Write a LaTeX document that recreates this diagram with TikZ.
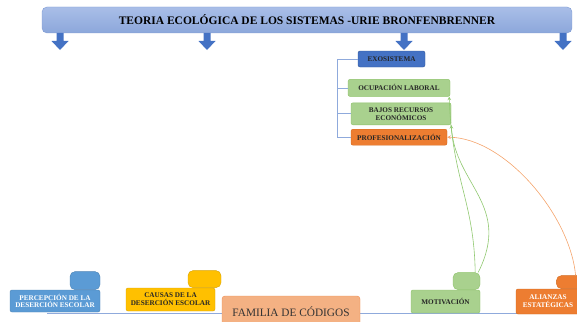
\documentclass[tikz,border=0pt]{standalone}
\usepackage{fontspec}
\setmainfont{Liberation Serif}
\usepackage{xcolor}
\usetikzlibrary{shapes,arrows,positioning,backgrounds}

\definecolor{bartop}{HTML}{A9BEE8}
\definecolor{barbot}{HTML}{8CA7DB}
\definecolor{barline}{HTML}{7E9AD3}
\definecolor{exoblue}{HTML}{4472C4}
\definecolor{exoline}{HTML}{2F5597}
\definecolor{boxgreen}{HTML}{A9D18E}
\definecolor{greenline}{HTML}{8CC168}
\definecolor{boxorange}{HTML}{ED7D31}
\definecolor{orangeline}{HTML}{D2691E}
\definecolor{percblue}{HTML}{5B9BD5}
\definecolor{causyellow}{HTML}{FFC000}
\definecolor{famsalmon}{HTML}{F4B183}
\definecolor{famline}{HTML}{F08C52}
\definecolor{linkblue}{HTML}{8FAADC}
\definecolor{linkorange}{HTML}{F4A36B}
\definecolor{linkgreen}{HTML}{90C870}

\begin{document}
\begin{tikzpicture}[
    x=1pt, y=-1pt,
    node distance=6pt,
    title/.style={rectangle, draw=barline, rounded corners=5pt, top color=bartop, bottom color=barbot, font=\fontsize{11.5}{12}\selectfont\bfseries},
    box/.style={rectangle, draw, rounded corners=2pt, inner sep=1pt, align=center, font=\fontsize{7.2}{7.8}\selectfont\bfseries, text=black!85},
    tab/.style={rectangle, draw, rounded corners=5pt},
    greenbox/.style={box, fill=boxgreen, draw=greenline},
    orangebox/.style={box, fill=boxorange, draw=orangeline},
    link/.style={-stealth, line width=0.6pt},
]
    \useasboundingbox (0,0) rectangle (577,321);

    % Title bar with arrows
    \node[title, minimum width=530pt, minimum height=26pt] (title) at (307,20) {TEORIA ECOLÓGICA DE LOS SISTEMAS -URIE BRONFENBRENNER};
    \foreach \x in {60,207,404,563}
        \fill[exoblue] (\x-3.5,33) -- (\x+3.5,33) -- (\x+3.5,41) -- (\x+8.5,41) -- (\x,50) -- (\x-8.5,41) -- (\x-3.5,41) -- cycle;

    % EXOSISTEMA column
    \node[box, fill=exoblue, draw=exoline, minimum width=67pt, minimum height=16pt] (exo) at (391.5,59) {EXOSISTEMA};
    \node[greenbox, minimum width=102pt, minimum height=17pt, below=12pt of exo, xshift=7.5pt] (ocup) {OCUPACIÓN LABORAL};
    \node[greenbox, minimum width=100pt, minimum height=22pt, below=6pt of ocup, xshift=2pt] (bajos) {BAJOS RECURSOS\\ECONÓMICOS};
    \node[orangebox, minimum width=96pt, minimum height=16pt, below=4pt of bajos, xshift=-2pt] (prof) {PROFESIONALIZACIÓN};

    % Bracket
    \coordinate (brk) at (337,59);
    \draw[linkblue, line width=0.8pt] (exo.west) -- (brk) |- (prof.west);
    \draw[linkblue, line width=0.8pt] (brk |- ocup.west) -- (ocup.west);
    \draw[linkblue, line width=0.8pt] (brk |- bajos.west) -- (bajos.west);

    % Bottom row
    \node[box, fill=percblue, draw=percblue!85!black, text=white, minimum width=90pt, minimum height=22pt] (perc) at (55,301) {PERCEPCIÓN DE LA\\DESERCIÓN ESCOLAR};
    \node[tab, fill=percblue, draw=percblue!85!black, minimum width=30pt, minimum height=18pt, anchor=south east] (perctab) at (perc.north east) {};
    \node[box, fill=causyellow, draw=causyellow!85!black, minimum width=89pt, minimum height=23pt] (caus) at (170.5,299.5) {CAUSAS DE LA\\DESERCIÓN ESCOLAR};
    \node[tab, fill=causyellow, draw=causyellow!85!black, minimum width=33pt, minimum height=17pt, anchor=south east, xshift=6pt] (caustab) at (caus.north east) {};
    \node[box, fill=famsalmon, draw=famline, rounded corners=3pt, minimum width=138pt, minimum height=32pt, font=\fontsize{11.3}{12}\selectfont, text=black!80] (fam) at (291,312) {FAMILIA DE CÓDIGOS};
    \node[greenbox, minimum width=69pt, minimum height=23pt] (mot) at (445.5,301.5) {MOTIVACIÓN};
    \node[tab, fill=boxgreen, draw=greenline, minimum width=27pt, minimum height=17pt, anchor=south east] (mottab) at (mot.north east) {};
    \node[orangebox, text=white, minimum width=64pt, minimum height=25pt] (ali) at (548,301.5) {ALIANZAS\\ESTATÉGICAS};
    \node[tab, fill=boxorange, draw=orangeline, minimum width=26pt, minimum height=13pt, anchor=south west] (alitab) at ([xshift=-24pt]ali.north east) {};

    % Base line
    \begin{scope}[on background layer]
        \coordinate (base-l) at (47,313);
        \coordinate (base-r) at (577,313);
        \draw[linkblue, line width=1pt] (base-l) -- (base-r);
    \end{scope}

    % Links
    \draw[link, linkorange] ([xshift=-7pt]alitab.north east) .. controls (570,215) and (505,138) .. (prof.east);
    \draw[link, linkgreen] ([xshift=-5pt]mottab.north east) .. controls (474,200) and (452,180) .. ([xshift=-1pt]ocup.south east);
    \draw[link, linkgreen] ([xshift=-2pt]mottab.north east) .. controls (512,205) and (455,185) .. (bajos.south east);

\end{tikzpicture}
\end{document}
